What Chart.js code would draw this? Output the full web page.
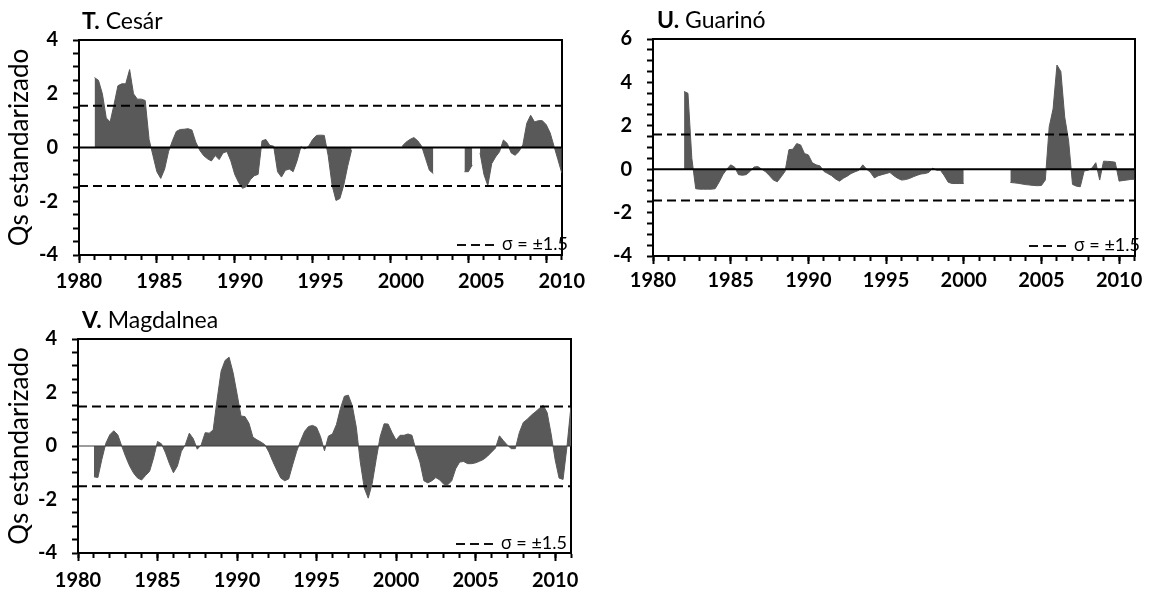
<!DOCTYPE html>
<html><head><meta charset="utf-8">
<script src="https://cdn.jsdelivr.net/npm/chart.js@4.4.1/dist/chart.umd.min.js"></script>
<style>
html,body{margin:0;padding:0;background:#fff;width:1156px;height:594px;overflow:hidden;font-family:Lato,'Open Sans',sans-serif;}
.panel{position:absolute;}
.panel canvas{display:block;position:absolute;left:0;top:0;}
.ttl{position:absolute;font-size:23px;line-height:23px;color:#000;white-space:nowrap;font-family:Lato,'Open Sans',sans-serif;}
.ttl b{font-weight:700;}
.lg{position:absolute;font-size:18px;line-height:18px;white-space:nowrap;color:#000;font-family:Lato,'Open Sans',sans-serif;}
.sg{font-family:'Open Sans',sans-serif;font-size:18px;}
.dash{display:inline-block;width:37px;height:2px;background:repeating-linear-gradient(90deg,#111 0 9px,transparent 9px 14px);vertical-align:middle;margin-right:8px;}
</style></head><body>
<div class="panel" style="left:0;top:0;width:600px;height:300px">
  <canvas id="cT" width="600" height="300"></canvas>
  <div class="ttl" style="left:82px;top:9px"><b>T.</b> Cesár</div>
  <div class="lg" style="right:32px;top:234px"><span class="dash"></span><span class="sg">σ</span> = ±1.5</div>
</div>
<div class="panel" style="left:600px;top:0;width:556px;height:300px">
  <canvas id="cU" width="556" height="300"></canvas>
  <div class="ttl" style="left:57px;top:8px"><b>U.</b> Guarinó</div>
  <div class="lg" style="right:16px;top:235px"><span class="dash"></span><span class="sg">σ</span> = ±1.5</div>
</div>
<div class="panel" style="left:0;top:300px;width:600px;height:294px">
  <canvas id="cV" width="600" height="294"></canvas>
  <div class="ttl" style="left:82px;top:8px"><b>V.</b> Magdalnea</div>
  <div class="lg" style="right:33px;top:233px"><span class="dash"></span><span class="sg">σ</span> = ±1.5</div>
</div>
<script>
// ---------- data (quarterly samples, first at 1981.00) ----------
const START_YEAR = 1981;
const STEP = 0.25;
const X_MIN = 1980, X_MAX = 2011;

const valuesT = [
  2.6, 2.5, 2.0, 1.1,
  0.95, 1.6, 2.3, 2.37,
  2.37, 2.9, 2.0, 1.8,
  1.8, 1.75, 0.3, -0.3,
  -0.9, -1.15, -0.8, -0.15,
  0.25, 0.6, 0.67, 0.68,
  0.7, 0.65, 0.2, -0.1,
  -0.3, -0.42, -0.5, -0.3,
  -0.45, -0.2, -0.15, -0.5,
  -1.0, -1.3, -1.52, -1.45,
  -1.2, -1.05, -1.0, 0.25,
  0.3, 0.08, 0.05, -0.9,
  -1.1, -0.85, -0.8, -0.9,
  -0.5, 0.03, -0.05, 0.05,
  0.3, 0.45, 0.46, 0.45,
  -0.3, -1.4, -1.97, -1.9,
  -1.4, -0.7, -0.1, null,
  null, null, null, null,
  null, null, null, null,
  null, null, null, 0.05,
  0.2, 0.3, 0.37, 0.25,
  0.05, -0.4, -0.85, -0.97,
  null, null, null, null,
  null, null, null, -0.9,
  -0.9, -0.65, null, -0.2,
  -1.0, -1.42, -0.6, -0.35,
  -0.16, 0.28, 0.15, -0.2,
  -0.29, -0.15, 0.1, 0.9,
  1.2, 0.95, 1.0, 1.0,
  0.85, 0.55, 0.05, -0.45,
  -0.95
];

const valuesU = [
  null, null, null, null,
  3.58, 3.5, 0.5, -0.9,
  -0.92, -0.92, -0.92, -0.92,
  -0.9, -0.6, -0.25, 0.0,
  0.2, 0.1, -0.25, -0.28,
  -0.25, -0.1, 0.1, 0.12,
  0.0, -0.12, -0.3, -0.5,
  -0.58, -0.35, -0.1, 0.9,
  0.92, 1.18, 1.12, 0.72,
  0.66, 0.3, 0.2, 0.15,
  -0.1, -0.2, -0.3, -0.45,
  -0.55, -0.42, -0.32, -0.2,
  -0.12, -0.05, 0.2, 0.0,
  -0.15, -0.4, -0.3, -0.25,
  -0.2, -0.15, -0.3, -0.42,
  -0.5, -0.48, -0.43, -0.35,
  -0.28, -0.22, -0.2, -0.15,
  0.05, -0.05, -0.05, -0.3,
  -0.6, -0.66, -0.66, -0.66,
  -0.66, null, null, null,
  null, null, null, null,
  null, null, null, null,
  -0.61, -0.63, -0.65, -0.68,
  -0.71, -0.73, -0.75, -0.76,
  -0.75, -0.5, 1.95, 2.78,
  4.8, 4.5, 2.4, 1.3,
  -0.7, -0.78, -0.81, -0.08,
  -0.05, 0.05, 0.3, -0.5,
  0.37, 0.36, 0.35, 0.32,
  -0.55, -0.52, -0.5, -0.47,
  -0.46
];

const valuesV = [
  -1.15, -1.18, -0.5, 0.1,
  0.42, 0.57, 0.42, 0.0,
  -0.4, -0.75, -1.02, -1.2,
  -1.27, -1.1, -0.95, -0.45,
  0.17, 0.08, -0.25, -0.66,
  -1.0, -0.75, -0.2, 0.05,
  0.48, 0.27, -0.12, 0.05,
  0.5, 0.48, 0.6, 1.75,
  2.8, 3.2, 3.32, 2.75,
  1.95, 1.12, 1.1, 0.85,
  0.33, 0.23, 0.15, 0.05,
  -0.22, -0.58, -0.9, -1.2,
  -1.3, -1.23, -0.7, -0.2,
  0.2, 0.55, 0.73, 0.77,
  0.7, 0.35, -0.18, 0.37,
  0.45, 0.8, 1.4, 1.86,
  1.9, 1.5, 0.7, -0.6,
  -1.57, -1.95, -1.4, -0.5,
  0.35, 0.83, 0.82, 0.5,
  0.22, 0.4, 0.4, 0.45,
  0.4, -0.15, -0.6, -1.3,
  -1.38, -1.3, -1.18, -1.27,
  -1.43, -1.45, -1.3, -0.85,
  -0.6, -0.58, -0.66, -0.66,
  -0.63, -0.57, -0.5, -0.38,
  -0.23, -0.08, 0.38, 0.2,
  0.03, -0.1, -0.1, 0.5,
  0.88, 1.0, 1.15, 1.27,
  1.4, 1.52, 1.25, 0.45,
  -0.5, -1.2, -1.25, 0.0,
  1.5
];

const thresholdT = [1.55, -1.43];
const thresholdU = [1.6, -1.44];
const thresholdV = [1.48, -1.5];

const yearLabels = [1980, 1985, 1990, 1995, 2000, 2005, 2010];
const labelPosT = [1980, 1985.17, 1990.33, 1995.5, 2000.67, 2005.83, 2011];
const labelPosUV = [1980, 1985, 1990, 1995, 2000, 2005, 2010];
const majorYears = [1980, 1985, 1990, 1995, 2000, 2005, 2010];
const minorYears = [];
for (let y = 1980; y <= 2011; y++) minorYears.push(y);

const yTicks84 = [];
for (let v = -4; v <= 4; v += 0.5) yTicks84.push(v);
const yTicks64 = [];
for (let v = -4; v <= 6; v += 0.5) yTicks64.push(v);
const yMajor84 = [-4, -2, 0, 2, 4];
const yMajor64 = [-4, -2, 0, 2, 4, 6];

const Y_TITLE = 'Qs estandarizado';

// ---------- drawing ----------
const FILL = '#595959';
Chart.defaults.font.family = "Lato, 'Open Sans', sans-serif";
Chart.defaults.color = '#000';

function series(values) {
  return values.map((v, i) => ({x: START_YEAR + i * STEP, y: v}));
}
function flat(y) { return [{x: X_MIN, y: y}, {x: X_MAX, y: y}]; }
function ticksAt(arr) { return s => { s.ticks = arr.map(v => ({value: v})); }; }

const tickFont = {family: "Lato, 'Open Sans', sans-serif", weight: 'bold', size: 20};

function makeChart(id, p) {
  const el = document.getElementById(id);
  return new Chart(el, {
    type: 'line',
    data: {
      datasets: [
        {data: series(p.values), xAxisID: 'x', yAxisID: 'y', fill: 'origin',
         backgroundColor: FILL, borderColor: FILL, borderWidth: 1, pointRadius: 0,
         tension: 0, spanGaps: false, order: 3},
        {data: flat(0), xAxisID: 'x', yAxisID: 'y', fill: false, borderColor: p.zeroColor,
         borderWidth: p.zeroWidth, pointRadius: 0, order: 1},
        {data: flat(p.thr[0]), xAxisID: 'x', yAxisID: 'y', fill: false, borderColor: '#000',
         borderWidth: 2, borderDash: [9, 5], pointRadius: 0, order: 0},
        {data: flat(p.thr[1]), xAxisID: 'x', yAxisID: 'y', fill: false, borderColor: '#000',
         borderWidth: 2, borderDash: [9, 5], pointRadius: 0, order: 0}
      ]
    },
    options: {
      responsive: false, animation: false, devicePixelRatio: 1, events: [],
      layout: {padding: {top: p.padTop, right: p.padRight, bottom: 0, left: 0}, autoPadding: false},
      plugins: {legend: {display: false}, tooltip: {enabled: false}, title: {display: false}},
      scales: {
        x: {type: 'linear', position: 'bottom', min: X_MIN, max: X_MAX,
            afterBuildTicks: ticksAt(minorYears), afterFit: s => { s.height = 0; },
            ticks: {display: false},
            grid: {display: true, drawOnChartArea: false, drawTicks: true, tickLength: 5, tickWidth: 2, tickColor: '#000'},
            border: {display: true, color: '#000', width: 2}},
        xMaj: {type: 'linear', position: 'bottom', min: X_MIN, max: X_MAX,
            afterBuildTicks: ticksAt(majorYears), afterFit: s => { s.height = 0; },
            ticks: {display: false},
            grid: {display: true, drawOnChartArea: false, drawTicks: true, tickLength: 8, tickWidth: 2, tickColor: '#000'},
            border: {display: false}},
        xLab: {type: 'linear', position: 'bottom', weight: 10, min: X_MIN, max: X_MAX,
            afterBuildTicks: ticksAt(p.labelPos), afterFit: s => { s.height = p.xHeight; },
            grid: {display: false, drawTicks: false, tickLength: 0},
            border: {display: false},
            ticks: {display: true, autoSkip: false, maxRotation: 0, minRotation: 0, padding: p.xPad,
                    color: '#000', font: tickFont, callback: (v, i) => String(yearLabels[i])}},
        xTop: {type: 'linear', position: 'top', min: X_MIN, max: X_MAX,
            afterFit: s => { s.height = 0; },
            ticks: {display: false}, grid: {display: false, drawTicks: false},
            border: {display: true, color: '#000', width: 2}},
        y: {type: 'linear', position: 'left', min: p.yMin, max: p.yMax,
            afterBuildTicks: ticksAt(p.yTicks), afterFit: s => { s.width = p.yWidth; },
            ticks: {autoSkip: false, padding: 15, color: '#000', font: tickFont,
                    callback: v => (p.yMajor.includes(v) ? String(v) : '')},
            grid: {display: true, drawOnChartArea: false, drawTicks: true, tickLength: 6, tickWidth: 2, tickColor: '#000'},
            border: {display: true, color: '#000', width: 2},
            title: p.yTitle ? {display: true, text: p.yTitle, color: '#000',
                    font: {family: "Lato, 'Open Sans', sans-serif", size: 26, weight: 'normal'},
                    padding: {top: 4, bottom: 0}} : {display: false}},
        yRight: {type: 'linear', position: 'right', min: p.yMin, max: p.yMax,
            afterFit: s => { s.width = 0; },
            ticks: {display: false}, grid: {display: false, drawTicks: false},
            border: {display: true, color: '#000', width: 2}}
      }
    }
  });
}

makeChart('cT', {values: valuesT, thr: thresholdT, yMin: -4, yMax: 4, yTicks: yTicks84, yMajor: yMajor84,
  labelPos: labelPosT, padTop: 40, padRight: 28, yWidth: 79, xHeight: 45, xPad: 15,
  yTitle: Y_TITLE, zeroColor: '#000', zeroWidth: 2});
makeChart('cU', {values: valuesU, thr: thresholdU, yMin: -4, yMax: 6, yTicks: yTicks64, yMajor: yMajor64,
  labelPos: labelPosUV, padTop: 39, padRight: 11, yWidth: 53, xHeight: 44, xPad: 13,
  yTitle: null, zeroColor: '#000', zeroWidth: 2});
makeChart('cV', {values: valuesV, thr: thresholdV, yMin: -4, yMax: 4, yTicks: yTicks84, yMajor: yMajor84,
  labelPos: labelPosUV, padTop: 39, padRight: 29, yWidth: 78, xHeight: 41, xPad: 16,
  yTitle: Y_TITLE, zeroColor: '#3a3a3a', zeroWidth: 1});
</script>
</body></html>
